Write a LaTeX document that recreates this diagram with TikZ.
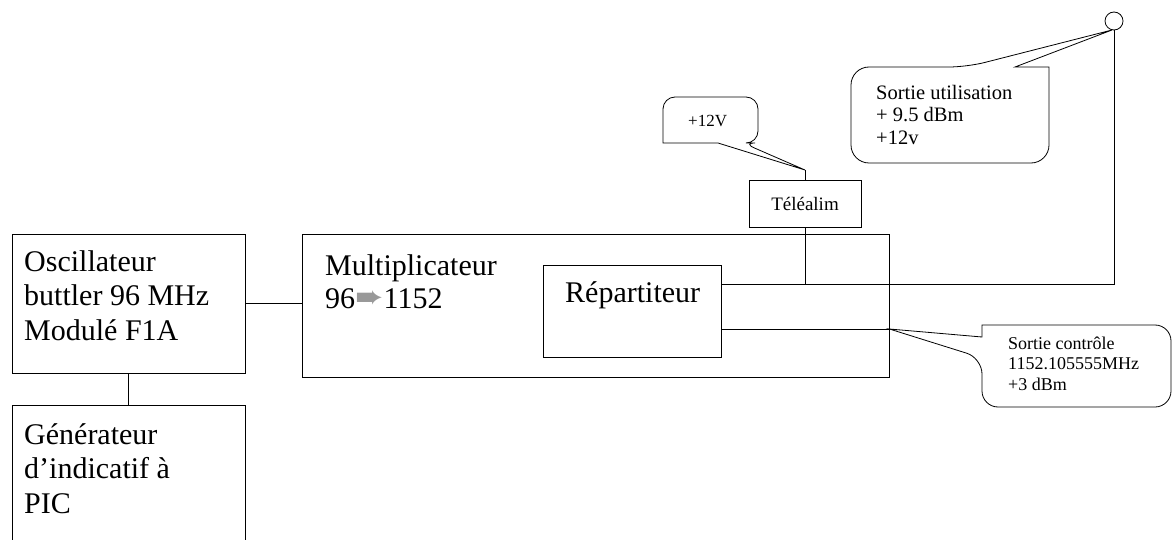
\documentclass[tikz,border=0pt]{standalone}
\usepackage{fontspec}
\setmainfont{Liberation Serif}
\newfontfamily\symfont{DejaVu Sans}

\tikzset{
  blockbox/.style={draw, line width=0.8pt, inner sep=0pt},
  bigtext/.style={anchor=north west, align=left, inner sep=0pt, font=\fontsize{30}{34.5}\selectfont},
  calltext/.style={anchor=north west, align=left, inner sep=0pt},
  wire/.style={line width=0.8pt}
}

\begin{document}
\begin{tikzpicture}[x=1pt, y=-1pt]
        \useasboundingbox (0,0) rectangle (1172,540);
        \clip (0,0) rectangle (1172,540);

        % Blocks
        \node[blockbox, minimum width=233, minimum height=139] (osc) at (128.5,303.5) {};
        \node[blockbox, minimum width=233, minimum height=155] (gen) at (128.5,482.5) {};
        \node[blockbox, minimum width=587, minimum height=143] (mult) at (595.5,305.5) {};
        \node[blockbox, minimum width=178, minimum height=92] (rep) at (632,311) {};
        \node[blockbox, minimum width=112, minimum height=47, font=\fontsize{19}{22}\selectfont] (tele) at (805,203.5) {Téléalim};
        \node[blockbox, circle, minimum size=18] (ant) at (1114,21) {};

        % Block texts
        \node[bigtext] (oscText) at (24,250) {Oscillateur\\buttler 96 MHz\\Modulé F1A};
        \node[bigtext] (genText) at (24,423) {Générateur\\d’indicatif à\\PIC};
        \node[bigtext, font=\fontsize{30}{33}\selectfont] (multText) at (325,254.5) {Multiplicateur\\96{\symfont\fontsize{34}{30}\selectfont\color{gray!80}➨}1152};
        \node[bigtext] (repText) at (565,281) {Répartiteur};

        % Links between blocks
        \draw[wire] (osc.east) -- (osc.east -| mult.west);
        \draw[wire] (osc.south) -- (gen.north);

        % Outputs of the splitter
        \coordinate (outU) at ([yshift=27pt]rep.east);
        \coordinate (outL) at ([yshift=-18pt]rep.east);
        \draw[wire] (outU) -| (ant.south);
        \draw[wire] (outL) -- (outL -| mult.east);
        \draw[wire] (tele.south) -- (tele.south |- outU);

        % Callout tips
        \coordinate (tip12) at (805,170);
        \coordinate (tipUtil) at (1112,30);
        \coordinate (tipCtrl) at (outL -| mult.east);
        \draw[wire] (tele.north) -- (tip12);

        % Callout +12V
        \draw[wire, rounded corners=12pt] (663,120) -- (663,97) -- (758,97) -- (758,143) -- (743,143)
            [sharp corners] -- (tip12) -- (718,143) -- (663,143) [rounded corners=12pt] -- cycle;
        \node[calltext, font=\fontsize{17}{20}\selectfont] (volt) at (688,115.5) {+12V};

        % Callout Sortie utilisation
        \draw[wire, rounded corners=18pt] (851,115) -- (851,67) -- (967,67)
            [sharp corners] -- (tipUtil) -- (1015,67) -- (1049,67) [rounded corners=18pt] -- (1049,163) -- (851,163) -- cycle;
        \node[calltext, font=\fontsize{20.5}{22.5}\selectfont] (util) at (876,85) {Sortie utilisation\\+ 9.5 dBm\\+12v};

        % Callout Sortie controle
        \draw[wire, rounded corners=16pt] (1076,325) -- (1171,325) -- (1171,407) -- (982,407) -- (982,358)
            [sharp corners] -- (tipCtrl) -- (982,337) -- (982,325) [rounded corners=12pt] -- cycle;
        \node[calltext, font=\fontsize{18}{20.5}\selectfont] (ctrl) at (1008,336.5) {Sortie contrôle\\1152.105555MHz\\+3 dBm};

\end{tikzpicture}
\end{document}
